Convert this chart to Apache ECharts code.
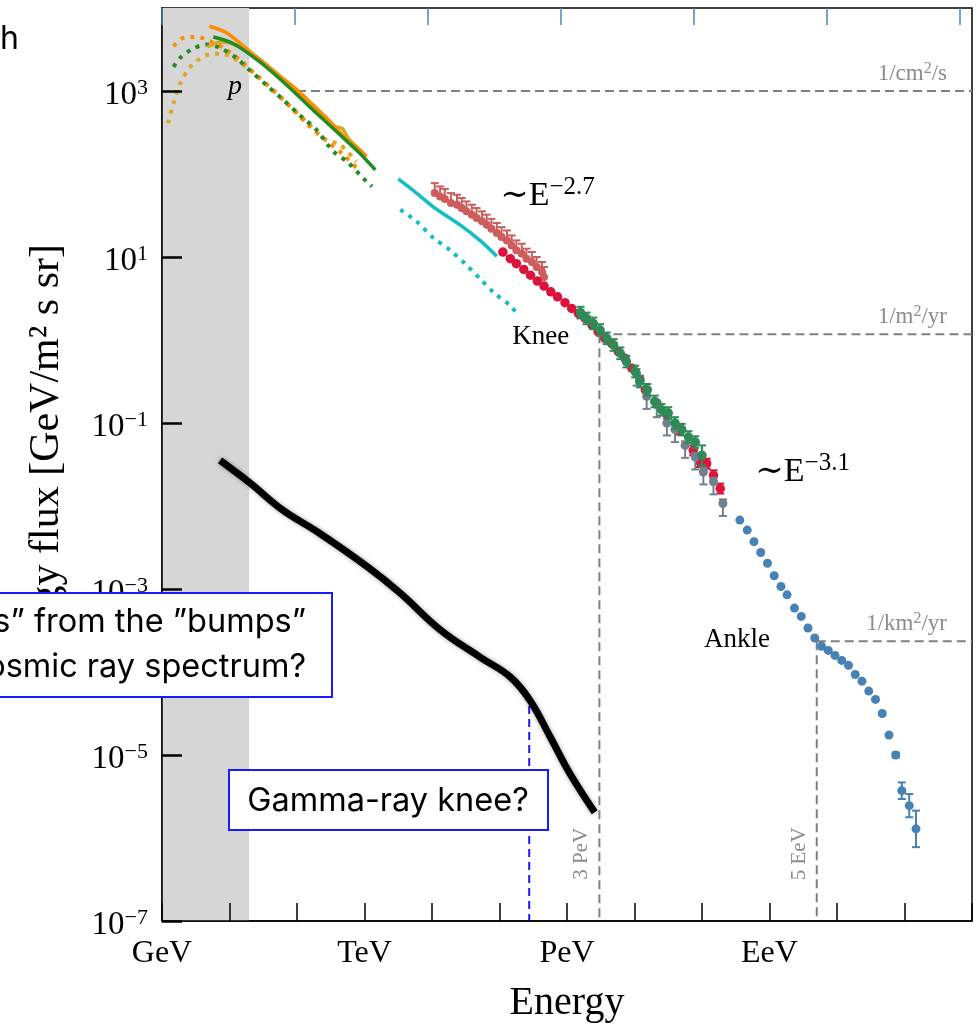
<!DOCTYPE html>
<html>
<head>
<meta charset="utf-8">
<title>Cosmic ray energy spectrum</title>
<script src="https://cdn.jsdelivr.net/npm/echarts@6/dist/echarts.min.js"></script>
<style>
    html, body { margin: 0; padding: 0; background: #fff; }
    #main { width: 977px; height: 1024px; }
</style>
</head>
<body>
<div id="main"></div>
<script>
// all values are log10: x = log10(E / GeV), y = log10(energy flux)
var xTickValues = [0, 3, 6, 9];
var xTickLabels = ['GeV', 'TeV', 'PeV', 'EeV'];
var yTickValues = [-7, -5, -3, -1, 1, 3];
var topTickValues = [0, 1, 2, 3, 4, 5, 6];
var bandEdge = 1.29;

// proton spectra (solid = data fits, dotted = models)
var orangeSolid = [[0.70, 3.78], [0.96, 3.70], [1.25, 3.51], [1.60, 3.27], [1.95, 3.05], [2.24, 2.83], [2.54, 2.59], [2.74, 2.41], [2.88, 2.33], [3.03, 2.21]];
var goldSolid = [[0.67, 3.53], [0.89, 3.59], [1.30, 3.47], [1.90, 3.07], [2.34, 2.73], [2.56, 2.57], [2.67, 2.55], [2.76, 2.43], [2.90, 2.31]];
var greenSolid = [[0.76, 3.65], [1.06, 3.57], [1.45, 3.35], [1.85, 3.07], [2.24, 2.77], [2.64, 2.47], [2.93, 2.25], [3.16, 2.05]];
var orangeDotted = [[0.17, 3.54], [0.29, 3.63], [0.44, 3.65], [0.59, 3.64], [0.74, 3.59], [0.93, 3.51], [1.16, 3.37], [1.40, 3.19], [1.65, 3.01], [1.95, 2.77], [2.14, 2.61], [2.39, 2.43], [2.69, 2.23], [2.93, 2.03]];
var goldDotted = [[0.09, 2.61], [0.17, 2.85], [0.27, 3.09], [0.44, 3.31], [0.69, 3.44], [0.86, 3.45], [1.03, 3.41], [1.25, 3.29], [1.45, 3.15], [1.80, 2.89], [2.14, 2.63], [2.39, 2.43], [2.64, 2.35], [2.88, 2.15]];
var greenDotted = [[0.17, 3.29], [0.27, 3.40], [0.46, 3.51], [0.66, 3.56], [0.83, 3.53], [1.08, 3.41], [1.30, 3.25], [1.55, 3.07], [1.80, 2.89], [2.04, 2.71], [2.29, 2.53], [2.54, 2.27], [2.74, 2.15], [2.98, 1.95], [3.11, 1.85]];
var cyanSolid = [[3.50, 1.94], [3.77, 1.77], [4.04, 1.59], [4.41, 1.39], [4.71, 1.20], [4.96, 1.01]];
var cyanDotted = [[3.53, 1.57], [3.77, 1.43], [4.02, 1.23], [4.27, 1.08], [4.49, 0.92], [4.71, 0.74], [4.93, 0.56], [5.18, 0.40], [5.26, 0.30]];

// measured points: [logE, logFlux, errDown, errUp]
var salmonPts = [[4.04, 1.77, 0, 0.12], [4.12, 1.73, 0, 0.12], [4.19, 1.70, 0, 0.12], [4.28, 1.65, 0, 0.12], [4.37, 1.63, 0, 0.12], [4.44, 1.59, 0, 0.12], [4.51, 1.55, 0, 0.12], [4.59, 1.51, 0, 0.12], [4.66, 1.47, 0, 0.12], [4.74, 1.43, 0, 0.12], [4.81, 1.39, 0, 0.12], [4.88, 1.34, 0, 0.12], [4.96, 1.29, 0, 0.12], [5.03, 1.24, 0, 0.12], [5.11, 1.20, 0, 0.12], [5.18, 1.14, 0, 0.12], [5.25, 1.08, 0, 0.12], [5.33, 1.04, 0, 0.12], [5.40, 0.98, 0, 0.12], [5.48, 0.94, 0, 0.12], [5.55, 0.88, 0, 0.12], [5.63, 0.82, 0, 0.12], [5.66, 0.76, 0, 0.12]];
var crimsonPts = [[5.05, 1.06, 0, 0], [5.16, 0.98, 0, 0], [5.25, 0.92, 0, 0], [5.36, 0.85, 0, 0], [5.46, 0.78, 0, 0], [5.56, 0.71, 0, 0], [5.66, 0.65, 0, 0], [5.76, 0.58, 0, 0], [5.86, 0.52, 0, 0], [5.97, 0.45, 0, 0], [6.07, 0.38, 0, 0], [6.17, 0.32, 0, 0], [6.27, 0.26, 0, 0], [6.37, 0.18, 0, 0], [6.46, 0.10, 0, 0], [6.56, 0.02, 0, 0], [6.66, -0.04, 0, 0], [6.76, -0.14, 0, 0], [6.86, -0.22, 0, 0], [6.96, -0.34, 0, 0], [7.08, -0.48, 0, 0], [7.16, -0.60, 0, 0], [7.33, -0.76, 0, 0], [7.48, -0.90, 0, 0], [7.67, -1.08, 0.06, 0.06], [7.87, -1.33, 0.06, 0.06], [7.97, -1.47, 0.06, 0.06], [8.07, -1.49, 0.06, 0.06], [8.17, -1.63, 0.06, 0.06], [8.27, -1.79, 0.06, 0.06]];
var greyPts = [[7.03, -0.40, 0.15, 0.05], [7.18, -0.68, 0.15, 0.05], [7.33, -0.78, 0.15, 0.05], [7.48, -1.00, 0.15, 0.05], [7.60, -1.08, 0.15, 0.05], [7.75, -1.27, 0.15, 0.05], [7.90, -1.41, 0.15, 0.05], [8.02, -1.59, 0.15, 0.05], [8.17, -1.71, 0.15, 0.05], [8.31, -1.97, 0.15, 0.05]];
var seagreenPts = [[6.20, 0.33, 0.07, 0.07], [6.29, 0.26, 0.07, 0.07], [6.39, 0.20, 0.07, 0.07], [6.49, 0.12, 0.07, 0.07], [6.59, 0.02, 0.07, 0.07], [6.69, -0.06, 0.07, 0.07], [6.79, -0.16, 0.07, 0.07], [6.88, -0.26, 0.07, 0.07], [7.01, -0.38, 0.07, 0.07], [7.08, -0.50, 0.07, 0.07], [7.19, -0.60, 0.07, 0.07], [7.30, -0.74, 0.07, 0.07], [7.40, -0.84, 0.07, 0.07], [7.50, -0.88, 0.07, 0.07], [7.60, -1.00, 0.07, 0.07], [7.70, -1.08, 0.07, 0.07], [7.80, -1.17, 0.07, 0.07], [7.90, -1.23, 0.07, 0.07], [8.00, -1.39, 0.12, 0.12]];
var bluePts = [[8.56, -2.17, 0, 0], [8.67, -2.29, 0, 0], [8.77, -2.43, 0, 0], [8.87, -2.56, 0, 0], [8.97, -2.69, 0, 0], [9.07, -2.84, 0, 0], [9.17, -2.97, 0, 0], [9.26, -3.07, 0, 0], [9.37, -3.23, 0, 0], [9.47, -3.33, 0, 0], [9.57, -3.47, 0, 0], [9.67, -3.59, 0, 0], [9.77, -3.69, 0, 0], [9.87, -3.74, 0, 0], [9.97, -3.80, 0, 0], [10.07, -3.86, 0, 0], [10.17, -3.92, 0, 0], [10.27, -4.03, 0, 0], [10.37, -4.11, 0, 0], [10.47, -4.23, 0, 0], [10.57, -4.33, 0, 0], [10.67, -4.50, 0, 0], [10.77, -4.76, 0, 0], [10.87, -5.00, 0.03, 0.03], [10.96, -5.43, 0.10, 0.10], [11.07, -5.61, 0.14, 0.14], [11.17, -5.89, 0.22, 0.22]];

// gamma-ray flux curve
var gammaCurve = [[0.86, -1.45], [1.30, -1.72], [1.79, -2.05], [2.30, -2.31], [3.04, -2.73], [3.53, -3.05], [4.12, -3.49], [4.71, -3.82], [5.16, -4.06], [5.45, -4.34], [5.75, -4.78], [6.04, -5.22], [6.41, -5.69]];
var gammaKnee = [5.44, -4.41];

// reference rates and energies
var rateLevels = [3.0, 0.07, -3.63];
var rateStarts = [2.0, 6.48, 9.70];
var rateLabels = ['1/cm{s|2}/s', '1/m{s|2}/yr', '1/km{s|2}/yr'];
var markerEnergies = [6.48, 9.70];
var markerTops = [0.07, -3.63];
var markerLabels = ['3 PeV', '5 EeV'];

var serif = "'Liberation Serif', 'DejaVu Serif', serif";
var sans = "Inter, 'Noto Sans', sans-serif";

var chart = echarts.init(document.getElementById('main'));

function lineSeries(data, color, dotted, z) {
    return {
        type: 'line', data: data, symbol: 'none', smooth: 0.3, z: z || 3, silent: true,
        lineStyle: { color: color, width: dotted ? 4 : 3.5, type: dotted ? [4, 6] : 'solid', cap: 'butt' }
    };
}

function pointSeries(pts, color, size, z) {
    return {
        type: 'scatter', data: pts, symbol: 'circle', symbolSize: size, z: z, silent: true,
        itemStyle: { color: color, opacity: 1 }
    };
}

function errorSeries(pts, color, z) {
    return {
        type: 'custom', z: z, silent: true,
        encode: { x: 0, y: 1 },
        data: pts.filter(function(p) { return p[2] > 0 || p[3] > 0; }),
        renderItem: function(params, api) {
            var x = api.value(0), y = api.value(1), dn = api.value(2), up = api.value(3);
            var top = api.coord([x, y + up]);
            var bot = api.coord([x, y - dn]);
            var st = { stroke: color, lineWidth: 2 };
            var kids = [{ type: 'line', shape: { x1: top[0], y1: top[1], x2: bot[0], y2: bot[1] }, style: st }];
            if (up > 0) kids.push({ type: 'line', shape: { x1: top[0] - 4, y1: top[1], x2: top[0] + 4, y2: top[1] }, style: st });
            if (dn > 0) kids.push({ type: 'line', shape: { x1: bot[0] - 4, y1: bot[1], x2: bot[0] + 4, y2: bot[1] }, style: st });
            return { type: 'group', children: kids };
        }
    };
}

function guideSeries(data, color, dash) {
    return {
        type: 'line', data: data, symbol: 'none', z: 2, silent: true,
        lineStyle: { color: color, width: 2, type: dash }
    };
}

var series = [];
// shaded low-energy band
series.push({
    type: 'line', data: [[bandEdge, -7]], symbol: 'none', z: 1, silent: true,
    lineStyle: { opacity: 0 },
    markArea: { silent: true, itemStyle: { color: '#d6d6d6' }, data: [[{ xAxis: 0 }, { xAxis: bandEdge }]] }
});
rateLevels.forEach(function(lv, i) {
    series.push(guideSeries([[rateStarts[i], lv], [12, lv]], '#808080', [9, 5]));
});
markerEnergies.forEach(function(e, i) {
    series.push(guideSeries([[e, markerTops[i]], [e, -7]], '#808080', [9, 5]));
});
series.push(guideSeries([gammaKnee, [gammaKnee[0], -7]], '#1a1aff', [8, 5]));

series.push(lineSeries(goldDotted, '#e0a526', true));
series.push(lineSeries(orangeDotted, '#ff8c00', true));
series.push(lineSeries(greenDotted, '#228b22', true));
series.push(lineSeries(goldSolid, '#daa520', false));
series.push(lineSeries(orangeSolid, '#ff8c00', false));
series.push(lineSeries(greenSolid, '#228b22', false));
series.push(lineSeries(cyanDotted, '#14bfc4', true));
series.push(lineSeries(cyanSolid, '#14bfc4', false));

series.push(errorSeries(salmonPts, '#cd5c5c', 4));
series.push(pointSeries(salmonPts, '#cd5c5c', 8, 5));
series.push(errorSeries(crimsonPts, '#dc143c', 6));
series.push(pointSeries(crimsonPts, '#dc143c', 9.5, 6));
series.push(errorSeries(greyPts, '#708090', 7));
series.push(pointSeries(greyPts, '#708090', 9, 7));
series.push(errorSeries(seagreenPts, '#2e8b57', 8));
series.push(pointSeries(seagreenPts, '#2e8b57', 9.5, 8));
series.push(errorSeries(bluePts, '#4682b4', 9));
series.push(pointSeries(bluePts, '#4682b4', 9, 9));

series.push({
    type: 'line', data: gammaCurve, symbol: 'none', smooth: 0.4, z: 10, silent: true,
    lineStyle: { color: '#000', width: 7, shadowColor: 'rgba(0,0,0,0.4)', shadowBlur: 4 }
});

var option = {
    animation: false,
    backgroundColor: '#fff',
    grid: {
        left: 162, right: 5, top: 8, bottom: 103, show: true, borderColor: '#000', borderWidth: 1.5,
        containLabel: false, outerBoundsMode: 'none'
    },
    xAxis: [{
        type: 'value', min: 0, max: 12, interval: 1, position: 'bottom', z: 5,
        axisLine: { show: true, onZero: false, lineStyle: { color: '#000', width: 1.5 } },
        axisTick: { show: true, inside: true, length: 18, lineStyle: { color: '#000', width: 1.5 } },
        axisLabel: {
            customValues: xTickValues, margin: 17, color: '#000', fontSize: 32, fontFamily: serif,
            formatter: function(v) {
                var i = xTickValues.indexOf(v);
                return i >= 0 ? xTickLabels[i] : '';
            }
        },
        splitLine: { show: false },
        name: 'Energy', nameLocation: 'middle', nameGap: 62,
        nameTextStyle: { color: '#000', fontSize: 40, fontFamily: serif }
    }, {
        type: 'value', min: 0, max: 6.09, interval: 1, position: 'top', z: 5,
        axisLine: { show: false, onZero: false },
        axisTick: { show: true, inside: true, length: 17, customValues: topTickValues, lineStyle: { color: '#4a86bd', width: 1.5 } },
        axisLabel: { show: false },
        splitLine: { show: false }
    }],
    yAxis: [{
        type: 'value', min: -7, max: 4, interval: 2, z: 5,
        axisLine: { show: true, onZero: false, lineStyle: { color: '#000', width: 1.5 } },
        axisTick: { show: true, inside: true, length: 20, customValues: yTickValues, lineStyle: { color: '#000', width: 2.5 } },
        axisLabel: {
            customValues: yTickValues, margin: 14, color: '#000', fontFamily: serif, fontSize: 33,
            padding: [8, 0, 0, 0],
            formatter: function(v) {
                if (yTickValues.indexOf(v) < 0) return '';
                return '{b|10}{s|' + (v < 0 ? '\u2212' + (-v) : v) + '}';
            },
            rich: {
                b: { fontSize: 33, fontFamily: serif, color: '#000', lineHeight: 36 },
                s: { fontSize: 22, fontFamily: serif, color: '#000', lineHeight: 22, verticalAlign: 'top' }
            }
        },
        splitLine: { show: false },
        name: 'Energy flux [GeV/m² s sr]', nameLocation: 'middle', nameGap: 94,
        nameTextStyle: { color: '#000', fontSize: 42, fontFamily: serif }
    }],
    series: series
};

chart.setOption(option);

// annotations placed from data coordinates
function at(p) {
    return chart.convertToPixel({ xAxisIndex: 0, yAxisIndex: 0 }, p);
}

function buildNotes() {
    var g = [];
    var p;
    p = at([1.08, 3.05]);
    g.push({ type: 'text', x: p[0], y: p[1], z: 50, style: { text: 'p', font: 'italic 28px ' + serif, fill: '#000', align: 'center', verticalAlign: 'middle' } });
    p = at([5.61, 0.04]);
    g.push({ type: 'text', x: p[0], y: p[1], z: 50, style: { text: 'Knee', font: '27px ' + serif, fill: '#000', align: 'center', verticalAlign: 'middle' } });
    p = at([8.52, -3.61]);
    g.push({ type: 'text', x: p[0], y: p[1], z: 50, style: { text: 'Ankle', font: '27px ' + serif, fill: '#000', align: 'center', verticalAlign: 'middle' } });

    var slopeRich = {
        e: { fontSize: 34, fontFamily: serif, fill: '#000', lineHeight: 42 },
        s: { fontSize: 25, fontFamily: serif, fill: '#000', lineHeight: 25, verticalAlign: 'top' }
    };
    p = at([5.01, 1.73]);
    g.push({ type: 'text', x: p[0], y: p[1], z: 50, style: { text: '{e|\u223cE}{s|\u22122.7}', rich: slopeRich, align: 'left', verticalAlign: 'middle' } });
    p = at([8.79, -1.59]);
    g.push({ type: 'text', x: p[0], y: p[1], z: 50, style: { text: '{e|\u223cE}{s|\u22123.1}', rich: slopeRich, align: 'left', verticalAlign: 'middle' } });

    var rateRich = {
        t: { fontSize: 23, fontFamily: serif, fill: '#8c8c8c', lineHeight: 26 },
        s: { fontSize: 16, fontFamily: serif, fill: '#8c8c8c', lineHeight: 16, verticalAlign: 'top' }
    };
    rateLevels.forEach(function(lv, i) {
        var q = at([11.63, lv + 0.21]);
        var txt = rateLabels[i].replace(/^([^{]+)\{s\|2\}(.*)$/, '{t|$1}{s|2}{t|$2}');
        g.push({ type: 'text', x: q[0], y: q[1], z: 50, style: { text: txt, rich: rateRich, align: 'right', verticalAlign: 'middle' } });
    });
    markerEnergies.forEach(function(e, i) {
        var q = at([e - 0.26, -6.19]);
        g.push({ type: 'text', x: q[0], y: q[1], z: 50, rotation: Math.PI / 2, style: { text: markerLabels[i], font: '21px ' + serif, fill: '#8c8c8c', align: 'center', verticalAlign: 'middle' } });
    });

    // callout boxes
    g.push({ type: 'rect', z: 100, shape: { x: -20, y: 593, width: 352, height: 104 }, style: { fill: '#fff', stroke: '#1a1aff', lineWidth: 2 } });
    g.push({ type: 'text', z: 101, x: 306, y: 622, style: { text: '\u201dGamma-rays\u201d from the \u201dbumps\u201d', font: '32.5px ' + sans, fill: '#000', align: 'right', verticalAlign: 'middle' } });
    g.push({ type: 'text', z: 101, x: 306, y: 667, style: { text: 'in the cosmic ray spectrum?', font: '32.5px ' + sans, fill: '#000', align: 'right', verticalAlign: 'middle' } });
    g.push({ type: 'rect', z: 100, shape: { x: 229, y: 770, width: 319, height: 60 }, style: { fill: '#fff', stroke: '#1a1aff', lineWidth: 2 } });
    g.push({ type: 'text', z: 101, x: 388, y: 801, style: { text: 'Gamma-ray knee?', font: '32.5px ' + sans, fill: '#000', align: 'center', verticalAlign: 'middle' } });
    g.push({ type: 'text', z: 101, x: 0, y: 39, style: { text: 'h', font: '32px ' + sans, fill: '#000', align: 'left', verticalAlign: 'middle' } });
    return g;
}

chart.setOption({ graphic: buildNotes() });

window.addEventListener('resize', function() {
    chart.resize();
});
</script>
</body>
</html>
